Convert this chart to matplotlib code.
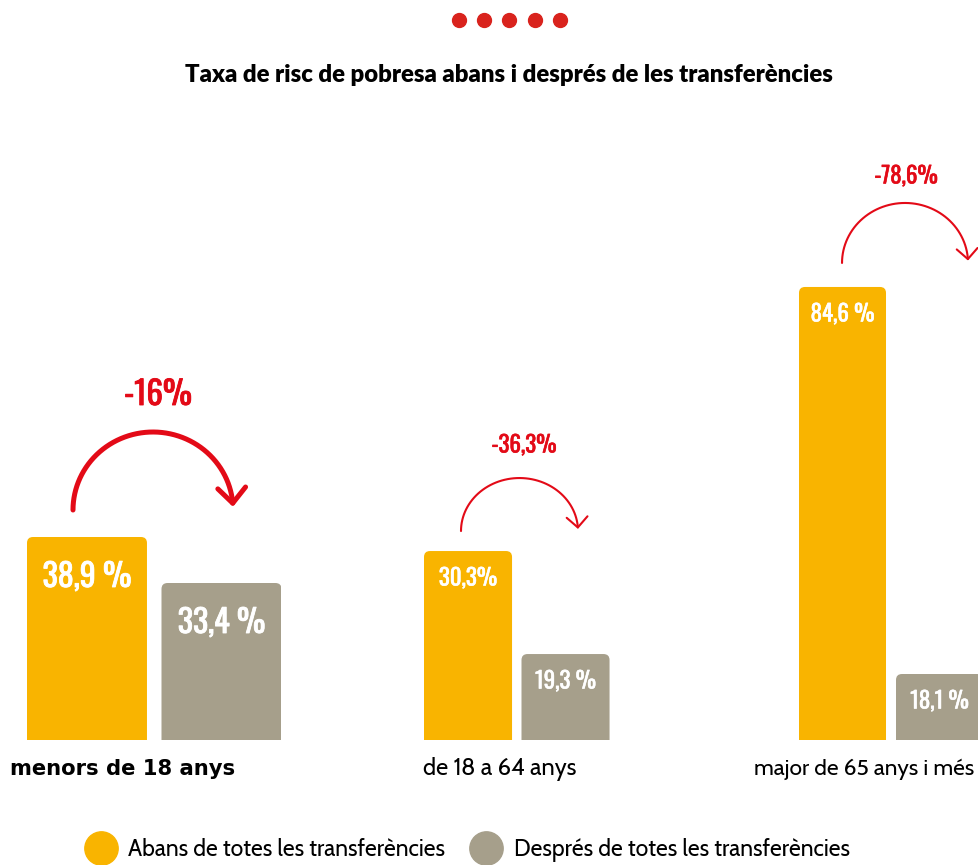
import numpy as np
import matplotlib.pyplot as plt
import matplotlib.patheffects as pe
from matplotlib.patches import FancyBboxPatch, FancyArrowPatch
from matplotlib.path import Path
from matplotlib.lines import Line2D

xifres = ['Oswald', 'Roboto Condensed', 'DejaVu Sans']
lletra = ['Cabin', 'Lato', 'DejaVu Sans']
plt.rcParams['font.family'] = lletra

# dades
titol = "Taxa de risc de pobresa abans i després de les transferències"
grups = ["menors de 18 anys", "de 18 a 64 anys", "major de 65 anys i més"]
abans = [38.9, 30.3, 84.6]
despres = [33.4, 19.3, 18.1]
abans_txt = ["38,9 %", "30,3%", "84,6 %"]
despres_txt = ["33,4 %", "19,3 %", "18,1 %"]
canvi_txt = ["-16%", "-36,3%", "-78,6%"]
series = ["Abans de totes les transferències", "Després de totes les transferències"]

groc = '#F9B400'
gris = '#A69F8B'
vermell = '#E30A17'

W, H = 979, 865
fig = plt.figure(figsize=(W / 100, H / 100), dpi=100)

base_px = 740
top_px = 120
# cada grup té la seva pròpia escala (infografia)
layout = [
    dict(left=27, ppu=134.5, w=0.892, y0=14.63, k=8.364, big=True,
         xa=-0.104, xb=1.086, xl=0.528, dy=27, dl=142, alt=78),
    dict(left=424, ppu=97.5, w=0.903, y0=10.12, k=9.364, big=False,
         xa=-0.072, xb=1.128, xl=0.574, dy=20, dl=106, alt=53),
    dict(left=799, ppu=97, w=0.897, y0=6.76, k=5.82, big=False,
         xa=-0.005, xb=1.294, xl=0.655, dy=24, dl=111, alt=60),
]


def gruix(c, lw):
    # engreixa una mica la lletra condensada
    return [pe.withStroke(linewidth=lw, foreground=c)]


for i, L in enumerate(layout):
    w, ppu, k = L['w'], L['ppu'], L['k']
    xmin = -w / 2
    right = min(L['left'] + ppu * (1 + w), W)
    ax = fig.add_axes([L['left'] / W, 1 - base_px / H, (right - L['left']) / W,
                       (base_px - top_px) / H])
    ax.set_xlim(xmin, xmin + (right - L['left']) / ppu)
    ax.set_ylim(L['y0'], L['y0'] + (base_px - top_px) / k)
    ax.axis('off')

    bars = ax.bar([0, 1], [abans[i], despres[i]], width=w, color=[groc, gris])
    for b in bars:
        x, y = b.get_xy()
        fc = b.get_facecolor()
        p = FancyBboxPatch((x, y), b.get_width(), b.get_height(),
                           boxstyle="round,pad=0,rounding_size=%f" % (6 / ppu),
                           mutation_aspect=ppu / k, fc=fc, ec='none')
        b.remove()
        ax.add_patch(p)

    fs = 23 if L['big'] else 16.5
    off = 40 if L['big'] else 27
    sw = 0.6 if L['big'] else 0.4
    ax.annotate(abans_txt[i], (0, abans[i]), xytext=(0, -off * 0.72),
                textcoords='offset points', ha='center', va='center',
                color='white', fontsize=fs, fontweight='bold', family=xifres,
                path_effects=gruix('white', sw))
    ax.annotate(despres_txt[i], (1, despres[i]), xytext=(0, -off * 0.72),
                textcoords='offset points', ha='center', va='center',
                color='white', fontsize=fs, fontweight='bold', family=xifres,
                path_effects=gruix('white', sw))

    # fletxa corba (mig cercle)
    ys = abans[i] + L['dy'] / k
    cx = (L['xa'] + L['xb']) / 2
    rx = (L['xb'] - L['xa']) / 2
    ry = L['alt'] / k
    t = np.linspace(np.pi, 0.04, 60)
    camí = Path(np.column_stack([cx + rx * np.cos(t), ys + ry * np.sin(t)]))
    lw = 3.6 if L['big'] else 1.5
    hs = 'head_length=1.1,head_width=1.0' if L['big'] else 'head_length=0.75,head_width=0.75'
    fl = FancyArrowPatch(path=camí, arrowstyle='->,' + hs, color=vermell, lw=lw,
                         mutation_scale=10, transform=ax.transData, clip_on=False)
    ax.add_patch(fl)
    ax.text(L['xl'], abans[i] + L['dl'] / k, canvi_txt[i], ha='center', va='center',
            color=vermell, fontsize=23.5 if L['big'] else 16.5, fontweight='bold',
            family=xifres, clip_on=False, path_effects=gruix(vermell, sw))

# etiquetes dels grups
fig.text(10 / W, 1 - 769 / H, grups[0], ha='left', va='center', fontsize=15.2,
         fontweight='bold', color='black', family='DejaVu Sans')
fig.text(423 / W, 1 - 769 / H, grups[1], ha='left', va='center', fontsize=17, color='black')
fig.text(754 / W, 1 - 769 / H, grups[2], ha='left', va='center', fontsize=16.3, color='black')

# títol i punts
fig.text(509 / W, 1 - 75 / H, titol, ha='center', va='center', fontsize=17.2,
         fontweight='heavy', family=['Lato', 'DejaVu Sans'])
xs = np.linspace(459, 560, 5) / W
fig.add_artist(Line2D(xs, [1 - 20 / H] * 5, transform=fig.transFigure, ls='',
                      marker='o', ms=10, color='#D9231D'))

handles = [Line2D([], [], ls='', marker='o', ms=24, color=groc),
           Line2D([], [], ls='', marker='o', ms=24, color=gris)]
fig.legend(handles, series, ncol=2, loc='center', bbox_to_anchor=(466 / W, 1 - 850 / H),
           frameon=False, fontsize=16.5, handlelength=1.6, handletextpad=0.4,
           columnspacing=1.0)

fig.savefig('out.png', dpi=100)
